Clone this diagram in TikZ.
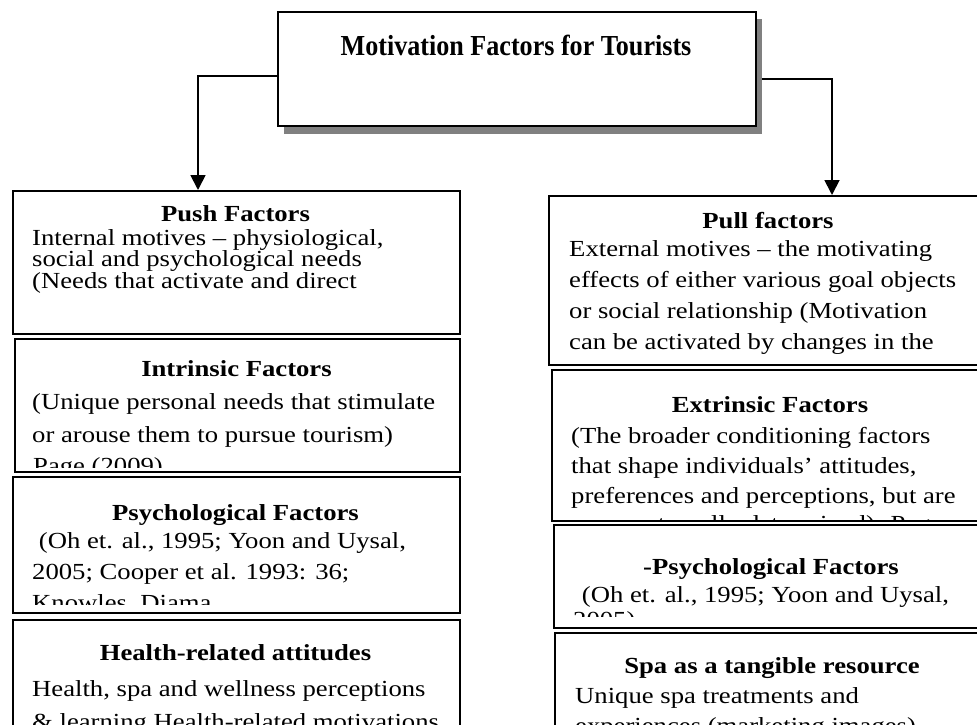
\documentclass[tikz,border=0pt]{standalone}
\usepackage{fontspec}
\setmainfont{Liberation Serif}
\newfontfamily\bodyfont{Liberation Serif}[FakeStretch=1.16]
\newfontfamily\titlefont{Liberation Serif}[FakeStretch=0.9]
\usetikzlibrary{arrows.meta}
\tikzset{
  box/.style={draw=black, line width=1.8pt, fill=white, anchor=north west, inner sep=0pt},
  shadowbox/.style={fill=black!50, draw=none, anchor=north west, inner sep=0pt},
  head/.style={anchor=base, inner sep=0pt, font=\bodyfont\fontsize{23}{23}\selectfont\bfseries},
  line/.style={anchor=base west, inner sep=0pt, font=\bodyfont\fontsize{23}{23}\selectfont},
  title/.style={anchor=base, inner sep=0pt, font=\titlefont\fontsize{29}{29}\selectfont\bfseries},
  conn/.style={line width=1.8pt, -{Triangle[width=15pt,length=15pt]}},
}
\begin{document}
\begin{tikzpicture}[x=1pt,y=-1pt]
\useasboundingbox (0,0) rectangle (977,725);
% top box
\node[shadowbox, minimum width=478pt, minimum height=115pt] (topsh) at (284,19) {};
\node[box, minimum width=478pt, minimum height=114pt] (top) at (277,11) {};
\node[title] (ttl) at (516,56) {Motivation Factors for Tourists};
% left column boxes
\node[box, minimum width=447pt, minimum height=143pt] (push) at (12,190) {};
\node[box, minimum width=445pt, minimum height=133pt] (intr) at (14,338) {};
\node[box, minimum width=447pt, minimum height=136pt] (psyl) at (12,476) {};
\node[box, minimum width=447pt, minimum height=130pt] (heal) at (12,619) {};
% right column boxes
\node[box, minimum width=442pt, minimum height=169pt] (pull) at (548,195) {};
\node[box, minimum width=439pt, minimum height=151pt] (extr) at (551,369) {};
\node[box, minimum width=437pt, minimum height=103pt] (psyr) at (553,524) {};
\node[box, minimum width=436pt, minimum height=110pt] (spa) at (554,632) {};
% connectors
\coordinate (lk) at (198,76);
\coordinate (rk) at (832,79);
\draw[conn] (top.west |- lk) -- (lk) -- (lk |- push.north);
\draw[conn] (topsh.east |- rk) -- (rk) -- (rk |- pull.north);
% texts
\begin{scope}
\clip (push.north west) rectangle (459,330);
\node[head] (pushh) at (235.5,221) {Push Factors};
\node[line] (push1) at (32,245) {Internal motives – physiological,};
\node[line] (push2) at (32,266) {social and psychological needs};
\node[line] (push3) at (32,288) {(Needs that activate and direct};
\end{scope}
\begin{scope}
\clip (intr.north west) rectangle (459,467);
\node[head] (intrh) at (236.5,376) {Intrinsic Factors};
\node[line] (intr1) at (32,409) {(Unique personal needs that stimulate};
\node[line] (intr2) at (32,442) {or arouse them to pursue tourism)};
\node[line] (intr3) at (33,473) {Page (2009)};
\end{scope}
\begin{scope}
\clip (psyl.north west) rectangle (459,604);
\node[head] (psylh) at (235.5,520) {Psychological Factors};
\node[line] (psyl1) at (32,548) {\ (Oh et. al., 1995; Yoon and Uysal,};
\node[line] (psyl2) at (32,579) {2005; Cooper et al. 1993: 36;};
\node[line] (psyl3) at (32,610) {Knowles, Diama};
\end{scope}
\begin{scope}
\clip (heal.north west) rectangle (459,725);
\node[head] (healh) at (235.5,660) {Health-related attitudes};
\node[line] (heal1) at (32,696) {Health, spa and wellness perceptions};
\node[line] (heal2) at (32,729) {\& learning Health-related motivations};
\end{scope}
\begin{scope}
\clip (pull.north west) rectangle (990,362);
\node[head] (pullh) at (768,228) {Pull factors};
\node[line] (pull1) at (569,256) {External motives – the motivating};
\node[line] (pull2) at (569,287) {effects of either various goal objects};
\node[line] (pull3) at (569,318) {or social relationship (Motivation};
\node[line] (pull4) at (569,349) {can be activated by changes in the};
\end{scope}
\begin{scope}
\clip (extr.north west) rectangle (990,521);
\node[head] (extrh) at (770,412) {Extrinsic Factors};
\node[line] (extr1) at (571,443) {(The broader conditioning factors};
\node[line] (extr2) at (571,473) {that shape individuals’ attitudes,};
\node[line] (extr3) at (571,503) {preferences and perceptions, but are};
\node[line] (extr4) at (571,531) {more externally determined). Page};
\end{scope}
\begin{scope}
\clip (psyr.north west) rectangle (990,616);
\node[head] (psyrh) at (771,574) {-Psychological Factors};
\node[line] (psyr1) at (575,602) {\ (Oh et. al., 1995; Yoon and Uysal,};
\node[line] (psyr2) at (573,627) {2005)};
\end{scope}
\begin{scope}
\clip (spa.north west) rectangle (990,725);
\node[head] (spah) at (772,673) {Spa as a tangible resource};
\node[line] (spa1) at (575,703) {Unique spa treatments and};
\node[line] (spa2) at (575,733) {experiences (marketing images)};
\end{scope}
\end{tikzpicture}
\end{document}
